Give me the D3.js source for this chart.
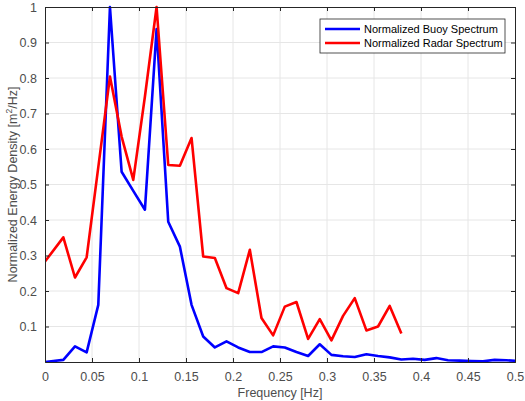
<!DOCTYPE html>
<html>
<head>
<meta charset="utf-8">
<script src="https://cdn.jsdelivr.net/npm/d3@7"></script>
<style>
  html, body { margin: 0; padding: 0; background: #fff; }
  svg { display: block; font-family: "Liberation Sans", Arial, Helvetica, sans-serif; }
</style>
</head>
<body>
<svg id="chart" width="525" height="401"></svg>
<script>
// Frequency bins [Hz]
const freqs = [0, 0.0195, 0.0319, 0.0443, 0.0567, 0.0691, 0.0815, 0.0939, 0.1063, 0.1187,
  0.1311, 0.1435, 0.1559, 0.1683, 0.1807, 0.1931, 0.2055, 0.2179, 0.2303, 0.2427,
  0.2551, 0.2675, 0.2799, 0.2923, 0.3047, 0.3171, 0.3295, 0.3419, 0.3543, 0.3667,
  0.3791, 0.3915, 0.4039, 0.4163, 0.4287, 0.4411, 0.4535, 0.4659, 0.4783, 0.4907, 0.5031];

// Normalized buoy spectrum
const buoy = [0.000, 0.006, 0.044, 0.027, 0.161, 1.000, 0.536, 0.482, 0.429, 0.938,
  0.395, 0.325, 0.161, 0.072, 0.041, 0.058, 0.041, 0.028, 0.028, 0.044,
  0.041, 0.028, 0.017, 0.050, 0.020, 0.016, 0.014, 0.022, 0.017, 0.013,
  0.007, 0.009, 0.006, 0.011, 0.005, 0.004, 0.003, 0.002, 0.006, 0.005, 0.003];

// Normalized radar spectrum (ends at 0.38 Hz)
const radar = [0.283, 0.351, 0.238, 0.295, 0.549, 0.804, 0.635, 0.513, 0.748, 1.000,
  0.555, 0.553, 0.631, 0.297, 0.293, 0.208, 0.194, 0.316, 0.124, 0.075,
  0.156, 0.169, 0.065, 0.121, 0.061, 0.130, 0.180, 0.089, 0.100, 0.158, 0.080];

const xTicks = [0, 0.05, 0.1, 0.15, 0.2, 0.25, 0.3, 0.35, 0.4, 0.45, 0.5];
const yTicks = [0.1, 0.2, 0.3, 0.4, 0.5, 0.6, 0.7, 0.8, 0.9, 1];
const seriesNames = ["Normalized Buoy Spectrum", "Normalized Radar Spectrum"];
const seriesColors = ["#0000ff", "#ff0000"];

const svg = d3.select("#chart");
const m = { left: 45, right: 10, top: 7, bottom: 39 };
const W = 525, H = 401;
const x = d3.scaleLinear().domain([0, 0.5]).range([m.left, W - m.right]);
const y = d3.scaleLinear().domain([0, 1]).range([H - m.bottom, m.top]);

const axisColor = "#262626";
const tickLabelColor = "#4d4d4d";

// Grid
const grid = svg.append("g");
grid.selectAll("line.gx").data(xTicks.slice(1, -1)).join("line")
  .attr("x1", d => x(d)).attr("x2", d => x(d))
  .attr("y1", y(0)).attr("y2", y(1))
  .attr("stroke", "#e6e6e6").attr("stroke-width", 1);
grid.selectAll("line.gy").data(yTicks.slice(0, -1)).join("line")
  .attr("x1", x(0)).attr("x2", x(0.5))
  .attr("y1", d => y(d)).attr("y2", d => y(d))
  .attr("stroke", "#e6e6e6").attr("stroke-width", 1);

// Series
const clipId = "plotclip";
svg.append("clipPath").attr("id", clipId).append("rect")
  .attr("x", x(0)).attr("y", y(1) - 2).attr("width", x(0.5) - x(0)).attr("height", y(0) - y(1) + 2);

const line = d3.line().x(d => x(d[0])).y(d => y(d[1]));
const plot = svg.append("g").attr("clip-path", `url(#${clipId})`);
plot.append("path")
  .datum(buoy.map((v, i) => [freqs[i], v]))
  .attr("d", line).attr("fill", "none")
  .attr("stroke", seriesColors[0]).attr("stroke-width", 2.6).attr("stroke-linejoin", "round");
plot.append("path")
  .datum(radar.map((v, i) => [freqs[i], v]))
  .attr("d", line).attr("fill", "none")
  .attr("stroke", seriesColors[1]).attr("stroke-width", 2.6).attr("stroke-linejoin", "round");

// Axes (ticks inward, box around plot)
const tickLen = 4;
const xAxis = d3.axisBottom(x).tickValues(xTicks).tickSize(-tickLen).tickPadding(10)
  .tickFormat(d => d3.format("~g")(d));
const yAxis = d3.axisLeft(y).tickValues(yTicks).tickSize(-tickLen).tickPadding(8)
  .tickFormat(d => d3.format("~g")(d));

const gx = svg.append("g").attr("transform", `translate(0,${y(0)})`).call(xAxis);
const gy = svg.append("g").attr("transform", `translate(${x(0)},0)`).call(yAxis);
const gxTop = svg.append("g").attr("transform", `translate(0,${y(1)})`)
  .call(d3.axisTop(x).tickValues(xTicks).tickSize(-tickLen).tickFormat(""));
const gyRight = svg.append("g").attr("transform", `translate(${x(0.5)},0)`)
  .call(d3.axisRight(y).tickValues(yTicks).tickSize(-tickLen).tickFormat(""));

[gx, gy, gxTop, gyRight].forEach(g => {
  g.select(".domain").attr("stroke", axisColor).attr("stroke-width", 1);
  g.selectAll(".tick line").attr("stroke", axisColor);
  g.selectAll(".tick text").attr("fill", tickLabelColor)
    .style("font-size", "12.5px").style("font-family", "Liberation Sans, Arial, sans-serif");
});

// Axis titles
svg.append("text")
  .attr("x", (x(0) + x(0.5)) / 2).attr("y", 397)
  .attr("text-anchor", "middle").attr("fill", tickLabelColor)
  .style("font-size", "12.5px").text("Frequency [Hz]");

const yt = svg.append("text")
  .attr("transform", `translate(17,${(y(0) + y(1)) / 2}) rotate(-90)`)
  .attr("text-anchor", "middle").attr("fill", tickLabelColor)
  .style("font-size", "12.5px");
yt.append("tspan").text("Normalized Energy Density [m");
yt.append("tspan").attr("dy", -5).style("font-size", "8.5px").text("2");
yt.append("tspan").attr("dy", 5).text("/Hz]");

// Legend
const lg = svg.append("g").attr("transform", "translate(320,19)");
lg.append("rect").attr("width", 185).attr("height", 34)
  .attr("fill", "#fff").attr("stroke", "#262626").attr("stroke-width", 0.8);
seriesNames.forEach((name, i) => {
  const row = lg.append("g").attr("transform", `translate(0,${10 + i * 14})`);
  row.append("line").attr("x1", 5).attr("x2", 40).attr("y1", 0).attr("y2", 0)
    .attr("stroke", seriesColors[i]).attr("stroke-width", 2.6);
  row.append("text").attr("x", 44).attr("y", 4)
    .attr("fill", "#000").style("font-size", "11px").text(name);
});
</script>
</body>
</html>
